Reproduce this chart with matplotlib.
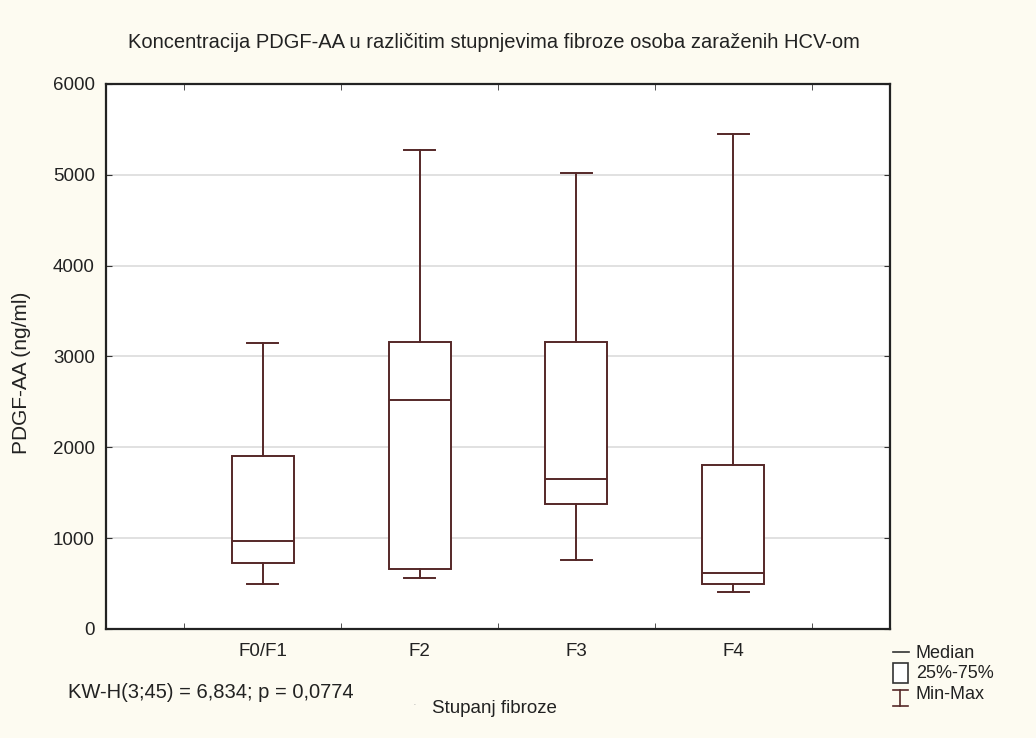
import numpy as np
import matplotlib
matplotlib.use("Agg")
import matplotlib.pyplot as plt

groups = ["F0/F1", "F2", "F3", "F4"]
mins = [495, 560, 765, 405]
q1 = [730, 660, 1380, 490]
medians = [970, 2520, 1650, 615]
q3 = [1910, 3160, 3160, 1805]
maxs = [3150, 5275, 5015, 5445]

line_col = "#552828"
bg = "#fdfbf1"

plt.rcParams["font.family"] = ["Liberation Sans", "DejaVu Sans"]

fig = plt.figure(figsize=(10.36, 7.38), dpi=100, facecolor=bg)
ax = fig.add_axes([0.1023, 0.1477, 0.7568, 0.7385])

stats = []
for i in range(len(groups)):
    stats.append(dict(whislo=mins[i], q1=q1[i], med=medians[i], q3=q3[i],
                      whishi=maxs[i], label=groups[i]))

pos = np.arange(1, len(groups) + 1)
lp = dict(color=line_col, linewidth=1.4)
ax.bxp(stats, positions=pos, widths=0.395, showfliers=False, patch_artist=True,
       boxprops=dict(facecolor="white", edgecolor=line_col, linewidth=1.4),
       medianprops=lp, whiskerprops=lp, capprops=lp, capwidths=0.2, zorder=3)

ax.set_xlim(0, 5)
ax.set_ylim(0, 6000)
ax.set_yticks(np.arange(0, 6001, 1000))
ax.set_xticks(pos)
ax.set_xticklabels(groups)
ax.set_xticks(np.arange(0.5, 5, 1), minor=True)
ax.tick_params(axis="x", which="major", length=0, labelsize=13.5, pad=10, colors="#222222")
ax.tick_params(axis="x", which="minor", length=4, direction="in", top=True, color="#333333")
ax.tick_params(axis="y", direction="in", right=True, length=4, labelsize=13.5, pad=8,
               colors="#222222", color="#333333")
for y in range(1000, 6000, 1000):
    ax.axhline(y, color="#d9d9d9", linewidth=1.1, zorder=1)
for s in ax.spines.values():
    s.set_color("#222222")
    s.set_linewidth(1.6)

ax.set_ylabel("PDGF-AA (ng/ml)", fontsize=15, color="#222222")
ax.yaxis.set_label_coords(-0.096, 0.47)
fig.text(0.477, 0.943, "Koncentracija PDGF-AA u različitim stupnjevima fibroze osoba zaraženih HCV-om",
         ha="center", va="center", fontsize=14.5, color="#222222")
fig.text(0.417, 0.040, "Stupanj fibroze", ha="left", va="center", fontsize=13.5, color="#222222")
fig.text(0.400, 0.045, "·", ha="center", va="center", fontsize=8, color="#aaaaaa")
fig.text(0.066, 0.061, "KW-H(3;45) = 6,834; p = 0,0774", ha="left", va="center",
         fontsize=14.5, color="#222222")

# legend block
lx = 0.873
fig.text(lx + 0.011, 0.115, "Median", ha="left", va="center", fontsize=13, color="#222222")
fig.lines.append(matplotlib.lines.Line2D([lx - 0.011, lx + 0.004], [0.117, 0.117],
                                         transform=fig.transFigure, color="#333333", linewidth=1.2))
fig.text(lx + 0.011, 0.087, "25%-75%", ha="left", va="center", fontsize=13, color="#222222")
fig.patches.append(matplotlib.patches.Rectangle((lx - 0.011, 0.075), 0.014, 0.027,
                                                transform=fig.transFigure, facecolor="white",
                                                edgecolor="#333333", linewidth=1.2))
fig.text(lx + 0.011, 0.059, "Min-Max", ha="left", va="center", fontsize=13, color="#222222")
fig.lines.append(matplotlib.lines.Line2D([lx - 0.011, lx + 0.003], [0.065, 0.065],
                                         transform=fig.transFigure, color=line_col, linewidth=1.2))
fig.lines.append(matplotlib.lines.Line2D([lx - 0.011, lx + 0.003], [0.043, 0.043],
                                         transform=fig.transFigure, color=line_col, linewidth=1.2))
fig.lines.append(matplotlib.lines.Line2D([lx - 0.004, lx - 0.004], [0.043, 0.065],
                                         transform=fig.transFigure, color=line_col, linewidth=1.2))

fig.savefig("out.png", dpi=100, facecolor=bg)
